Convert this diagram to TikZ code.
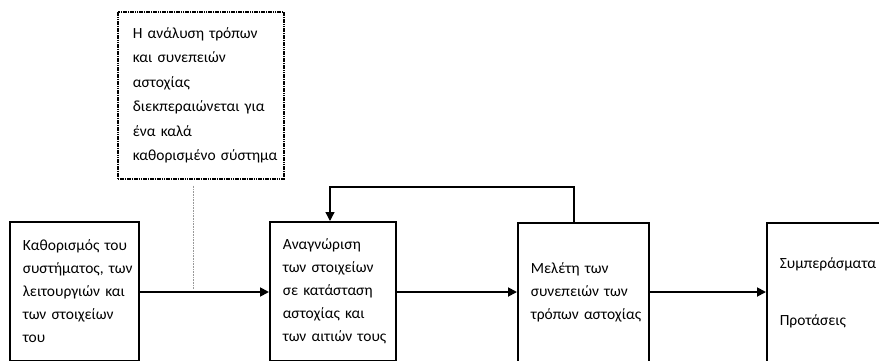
\documentclass[tikz,border=0pt]{standalone}
\usepackage{fontspec}
\setmainfont{Carlito}
\usetikzlibrary{arrows.meta}
\begin{document}
\begin{tikzpicture}[x=1pt,y=-1pt,
  txt/.style={font=\fontsize{15.5}{23}\selectfont, text=black},
  stagebox/.style={draw=black, line width=1.6pt, txt, align=left,
    anchor=north west, inner xsep=13pt, inner ysep=0pt},
  notebox/.style={draw=black, line width=1.7pt, dash pattern=on 1.6pt off 0.7pt,
    txt, align=left, anchor=north west, inner xsep=15pt, inner ysep=0pt,
    font=\fontsize{15.5}{24.5}\selectfont},
  flow/.style={line width=1.8pt, -{Triangle[length=9pt,width=9pt]}},
  back/.style={line width=1.3pt, -{Triangle[length=9pt,width=9pt]}},
  guide/.style={draw=black!40, line width=0.9pt, dash pattern=on 1pt off 0.6pt}
]
\useasboundingbox (0,0) rectangle (879,361);
\begin{scope}
\clip (0,0) rectangle (879,361);

% note on the scope of the analysis
\node[notebox, minimum width=166pt, minimum height=167pt, text width=136pt]
  (note) at (117,11)
  {Η ανάλυση τρόπων\\ και συνεπειών\\ αστοχίας\\ διεκπεραιώνεται~για\\ ένα καλά\\ καθορισμένο~σύστημα};

% the four stages
\node[stagebox, minimum width=129pt, minimum height=139pt, text width=103pt]
  (s1) at (9,221)
  {Καθορισμός~του\\ συστήματος,~των\\ λειτουργιών~και\\ των~στοιχείων\\ του};
\node[stagebox, minimum width=126pt, minimum height=139pt, text width=100pt]
  (s2) at (269,221)
  {Αναγνώριση\\ των~στοιχείων\\ σε~κατάσταση\\ αστοχίας~και\\ των~αιτιών~τους};
\node[stagebox, minimum width=131pt, minimum height=139pt, text width=105pt]
  (s3) at (517,222)
  {Μελέτη~των\\ συνεπειών~των\\ τρόπων~αστοχίας};
\node[stagebox, minimum width=140pt, minimum height=139pt, text width=114pt]
  (s4) at (766,222)
  {Συμπεράσματα\\[34pt] Προτάσεις};

% connectors
\coordinate (g) at (s1.east |- 0,292);
\draw[flow] (s1.east |- g) -- (s2.west |- g);
\draw[flow] (s2.east |- g) -- (s3.west |- g);
\draw[flow] (s3.east |- g) -- (s4.west |- g);
\draw[back] (s3.north -| 574,0) -- (574,187) -- (330,187) -- (s2.north -| 330,0);
\draw[guide] (note.south -| 193,0) ++(0,6) -- (193,289);
\end{scope}
\end{tikzpicture}
\end{document}
